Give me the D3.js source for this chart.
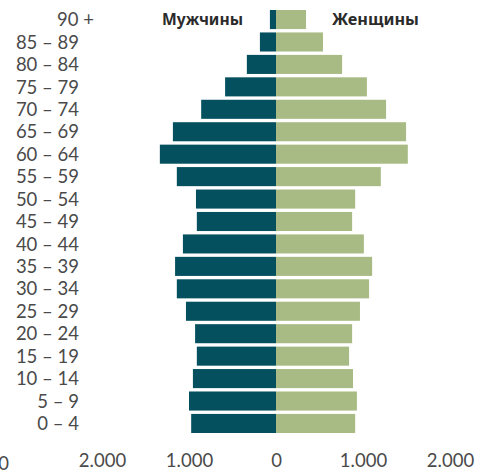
<!DOCTYPE html>
<html>
<head>
<meta charset="utf-8">
<script src="https://cdn.jsdelivr.net/npm/d3@7"></script>
<style>
  html, body { margin: 0; padding: 0; background: #fff; }
  svg { display: block; font-family: Lato, "Noto Sans", sans-serif; }
</style>
</head>
<body>
<svg id="chart" width="487" height="473"></svg>
<script>
// Age groups, from oldest (top) to youngest (bottom)
const ageGroups = ["90 +", "85 – 89", "80 – 84", "75 – 79", "70 – 74", "65 – 69", "60 – 64",
  "55 – 59", "50 – 54", "45 – 49", "40 – 44", "35 – 39", "30 – 34", "25 – 29",
  "20 – 24", "15 – 19", "10 – 14", "5 – 9", "0 – 4"];

// Population per age group
const men   = [70, 185, 335, 585, 860, 1185, 1335, 1140, 920, 910, 1070, 1160, 1140, 1035, 930, 910, 955, 1000, 975];
const women = [345, 540, 760, 1045, 1265, 1495, 1515, 1205, 910, 875, 1010, 1105, 1070, 965, 875, 840, 885, 930, 910];

// Axis tick values (men drawn to the left as negatives)
const tickValues = [-2000, -1000, 0, 1000, 2000];
const seriesNames = ["Мужчины", "Женщины"];

const colorMen = "#05505f";
const colorWomen = "#a9bb84";
const textColor = "#4a4a4a";
const labelFont = "Lato, \"Noto Sans\", sans-serif";
const titleFont = "\"Noto Sans\", \"Open Sans\", sans-serif";

const svg = d3.select("#chart");

const x = d3.scaleLinear().domain([-2000, 2000]).range([102, 450]);
const y = d3.scaleBand().domain(ageGroups).range([10, 433]).paddingInner(0.15).paddingOuter(0);

const fmt = v => d3.format(",")(Math.abs(v)).replace(/,/g, ".");

// Men bars
svg.append("g").selectAll("rect")
  .data(ageGroups.map((a, i) => ({ age: a, v: men[i] })))
  .join("rect")
  .attr("x", d => x(-d.v))
  .attr("y", d => y(d.age))
  .attr("width", d => x(0) - x(-d.v))
  .attr("height", y.bandwidth())
  .attr("fill", colorMen);

// Women bars
svg.append("g").selectAll("rect")
  .data(ageGroups.map((a, i) => ({ age: a, v: women[i] })))
  .join("rect")
  .attr("x", x(0))
  .attr("y", d => y(d.age))
  .attr("width", d => x(d.v) - x(0))
  .attr("height", y.bandwidth())
  .attr("fill", colorWomen);

// Age labels
svg.append("g").selectAll("text")
  .data(ageGroups)
  .join("text")
  .attr("x", d => d === "90 +" ? 94 : 79)
  .attr("y", d => y(d) + y.bandwidth() / 2)
  .attr("dy", "0.36em")
  .attr("text-anchor", "end")
  .attr("font-family", labelFont)
  .attr("font-size", 18.5)
  .attr("font-weight", 400)
  .attr("fill", textColor)
  .text(d => d);

// Series labels
svg.append("text")
  .attr("x", 243).attr("y", y(ageGroups[0]) + y.bandwidth() / 2)
  .attr("dy", "0.35em").attr("text-anchor", "end")
  .attr("font-family", titleFont)
  .attr("font-size", 16.5).attr("font-weight", 700).attr("fill", "#2b2b2b")
  .attr("textLength", 81).attr("lengthAdjust", "spacingAndGlyphs")
  .text(seriesNames[0]);
svg.append("text")
  .attr("x", 332).attr("y", y(ageGroups[0]) + y.bandwidth() / 2)
  .attr("dy", "0.35em").attr("text-anchor", "start")
  .attr("font-family", titleFont)
  .attr("font-size", 16.5).attr("font-weight", 700).attr("fill", "#2b2b2b")
  .attr("textLength", 87).attr("lengthAdjust", "spacingAndGlyphs")
  .text(seriesNames[1]);

// Bottom axis labels
const axis = d3.axisBottom(x).tickValues(tickValues).tickSize(0).tickFormat(fmt);
const gAxis = svg.append("g").attr("transform", "translate(0,451)").call(axis);
gAxis.select(".domain").remove();
gAxis.selectAll("text")
  .attr("font-size", 18.5).attr("font-weight", 400)
  .attr("font-family", labelFont)
  .attr("fill", textColor);

// Outermost label on the left, cut by the edge of the frame
svg.append("text")
  .attr("x", 9).attr("y", 470)
  .attr("text-anchor", "end")
  .attr("font-family", labelFont)
  .attr("font-size", 18.5).attr("font-weight", 400)
  .attr("fill", textColor)
  .text(fmt(-3000));
</script>
</body>
</html>
